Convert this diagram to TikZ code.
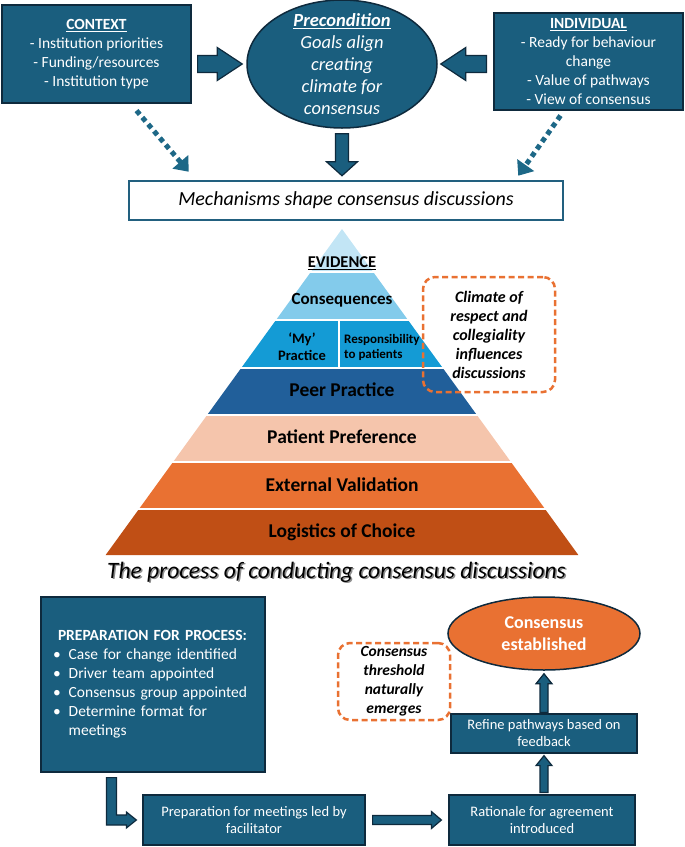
\documentclass[tikz,border=0pt]{standalone}
\usepackage{fontspec}
\setmainfont{Carlito}
\usetikzlibrary{calc,shapes.geometric,arrows.meta}

\definecolor{tealfill}{HTML}{1A5E7E}
\definecolor{navy}{HTML}{0E2A3D}
\definecolor{mechline}{HTML}{22607F}
\definecolor{tealdot}{HTML}{1D6887}
\definecolor{orng}{HTML}{E97132}
\definecolor{pyrA}{HTML}{C2E5F5}
\definecolor{pyrB}{HTML}{83CBEB}
\definecolor{pyrC}{HTML}{149BD5}
\definecolor{pyrD}{HTML}{215F9A}
\definecolor{pyrE}{HTML}{F5C5AC}
\definecolor{pyrF}{HTML}{E97132}
\definecolor{pyrG}{HTML}{C04F15}

% block arrow: from, to, half shaft, half head, head length
\newcommand{\blockarrow}[5]{%
\coordinate (ba-s) at (#1);
\coordinate (ba-e) at (#2);
\coordinate (ba-h) at ($(ba-e)!#5!(ba-s)$);
\draw[blockarr] ($(ba-s)!#3!90:(ba-e)$) -- ($(ba-h)!#3!90:(ba-e)$)
  -- ($(ba-h)!#4!90:(ba-e)$) -- (ba-e) -- ($(ba-h)!#4!-90:(ba-e)$)
  -- ($(ba-h)!#3!-90:(ba-e)$) -- ($(ba-s)!#3!-90:(ba-e)$) -- cycle;}

\begin{document}
\begin{tikzpicture}[x=1pt,y=-1pt,
  tealbox/.style={draw=navy,line width=1.2pt,fill=tealfill,text=white,align=center,inner sep=0pt},
  dashbox/.style={draw=orng,line width=2.5pt,dash pattern=on 6pt off 3.5pt,rounded corners=12pt,align=center,inner sep=0pt},
  blockarr/.style={draw=navy,line width=1.2pt,fill=tealfill,line join=miter},
  dotarr/.style={draw=tealdot,line width=5pt,dash pattern=on 5pt off 4pt,-{Triangle[length=13pt,width=20pt]}},
  pyrtext/.style={font=\bfseries\fontsize{19.5}{22}\selectfont,text=black,inner sep=0pt}]

\useasboundingbox (0,0) rectangle (685,847);

% top row
\node[tealbox,minimum width=189pt,minimum height=98pt,font=\fontsize{15.5}{19}\selectfont] (ctx) at (96.5,54)
  {\textbf{\underline{CONTEXT}}\\- Institution priorities\\- Funding/resources\\- Institution type};
\node[ellipse,draw=navy,line width=1.5pt,fill=tealfill,minimum width=190pt,minimum height=128pt,inner sep=0pt] (pre) at (342,64) {};
\node[text=white,align=center,inner sep=0pt,font=\itshape\fontsize{18.5}{22}\selectfont] (pretxt) at (pre)
  {\textbf{\underline{Precondition}}\\Goals align\\creating\\climate for\\consensus};
\node[tealbox,minimum width=189pt,minimum height=97pt,font=\fontsize{15.5}{19}\selectfont] (ind) at (588.5,61.5)
  {\textbf{\underline{INDIVIDUAL}}\\- Ready for behaviour\\change\\- Value of pathways\\- View of consensus};

\node[draw=mechline,line width=2.5pt,fill=white,minimum width=434pt,minimum height=39pt,inner sep=0pt,
  font=\itshape\fontsize{20}{24}\selectfont] (mech) at (346,200.5) {Mechanisms shape consensus discussions};

\blockarrow{$(ctx.east |- pre.west)+(6,0)$}{$(pre.west)+(-4,0)$}{8.5pt}{16.5pt}{25pt}
\blockarrow{$(ind.west |- pre.east)+(-7,0)$}{$(pre.east)+(3,0)$}{8.5pt}{16.5pt}{25pt}
\blockarrow{$(pre.south)+(0,5)$}{$(pre.south |- mech.north)+(0,-4)$}{6.5pt}{15.5pt}{14pt}

\draw[dotarr] ($(ctx.south)+(40,7)$) -- ($(mech.north west)+(61,-8)$);
\draw[dotarr] ($(ind.south)+(-28,5)$) -- ($(mech.north east)+(-46,-4)$);

% pyramid
\foreach \ya/\yb/\col in {229/272/pyrA, 272/320/pyrB, 320/368/pyrC, 368/415/pyrD, 415/462/pyrE, 462/509/pyrF, 509/555/pyrG}{
\fill[\col] ({342-0.725*(\ya-229)},\ya) -- ({342+0.725*(\ya-229)},\ya)
  -- ({342+0.725*(\yb-229)},\yb) -- ({342-0.725*(\yb-229)},\yb) -- cycle;
}
\foreach \yy in {272,320,368,415,462,509}{
\draw[white,line width=2pt] ({340-0.725*(\yy-229)},\yy) -- ({344+0.725*(\yy-229)},\yy);
}
\draw[white,line width=1.5pt] (339,320) -- (339,368);

\node[pyrtext,font=\bfseries\fontsize{16.5}{20}\selectfont] (evid) at (342,263) {\underline{EVIDENCE}};
\node[pyrtext,font=\bfseries\fontsize{17}{20}\selectfont] (conq) at (342,300) {Consequences};
\node[pyrtext,align=center,font=\bfseries\fontsize{14.5}{17}\selectfont] (myp) at (302,347) {‘My’\\Practice};
\node[pyrtext,align=left,anchor=west,font=\bfseries\fontsize{13}{15}\selectfont] (resp) at (344,347) {Responsibility\\to patients};
\node[pyrtext] (peer) at (342,390) {Peer Practice};
\node[pyrtext] (pat) at (342,437) {Patient Preference};
\node[pyrtext] (ext) at (342,485) {External Validation};
\node[pyrtext] (logc) at (342,532) {Logistics of Choice};

\node[dashbox,minimum width=132pt,minimum height=115pt,font=\bfseries\itshape\fontsize{16}{19}\selectfont] (clim) at (489,334.5)
  {Climate of\\respect and\\collegiality\\influences\\discussions};

% process
\node[text=black!45,inner sep=0pt,font=\itshape\fontsize{23.5}{28}\selectfont] (titsh) at (338,573.5) {The process of conducting consensus discussions};
\node[inner sep=0pt,font=\itshape\fontsize{23.5}{28}\selectfont] (tit) at (336.5,572) {The process of conducting consensus discussions};

\node[tealbox,minimum width=224pt,minimum height=175pt,text width=200pt,align=left,font=\fontsize{15.5}{19}\selectfont] (prep) at (153,684.5)
  {\begin{tabular}{@{}l@{\hspace{8pt}}l@{}}
   \multicolumn{2}{@{\hspace{5pt}}l@{}}{\textbf{PREPARATION FOR PROCESS:}}\\
   \textbullet & Case for change identified\\
   \textbullet & Driver team appointed\\
   \textbullet & Consensus group appointed\\
   \textbullet & Determine format for\\
               & meetings
   \end{tabular}};
\node[tealbox,minimum width=222pt,minimum height=50pt,font=\fontsize{14.5}{17}\selectfont] (mtg) at (254,820)
  {Preparation for meetings led by\\facilitator};
\node[tealbox,minimum width=186pt,minimum height=50pt,font=\fontsize{14.5}{17}\selectfont] (rat) at (542,820)
  {Rationale for agreement\\introduced};
\node[tealbox,minimum width=186pt,minimum height=39pt,font=\fontsize{14.5}{17}\selectfont] (ref) at (544,733.5)
  {Refine pathways based on\\feedback};
\node[ellipse,draw=navy,line width=1.5pt,fill=orng,minimum width=192pt,minimum height=73pt,inner sep=0pt,
  text=white,align=center,font=\bfseries\fontsize{18}{22}\selectfont] (est) at (544,633.5) {Consensus\\established};
\node[dashbox,minimum width=112pt,minimum height=77pt,font=\bfseries\itshape\fontsize{15.5}{19}\selectfont] (thr) at (394,681.5)
  {Consensus\\threshold\\naturally\\emerges};

\coordinate (el1) at ($(prep.south west)+(71,5)$);
\coordinate (el2) at ($(mtg.west)+(-6,0)$);
\coordinate (el3) at (el1 |- el2);
\draw[blockarr] ($(el1)+(-5,0)$) -- ($(el3)+(-5,5)$) -- ($(el2)+(-10,5)$) -- ($(el2)+(-10,8)$) -- (el2)
  -- ($(el2)+(-10,-8)$) -- ($(el2)+(-10,-5)$) -- ($(el3)+(5,-5)$) -- ($(el1)+(5,0)$) -- cycle;

\blockarrow{$(mtg.east)+(7,0)$}{$(rat.west)+(-7,0)$}{4.5pt}{8.5pt}{10pt}
\blockarrow{$(ref.south |- rat.north)+(0,-2)$}{$(ref.south)+(0,2)$}{4pt}{8pt}{10pt}
\blockarrow{$(ref.north)+(0,-1)$}{$(est.south)+(0,3)$}{4pt}{8pt}{10pt}
\end{tikzpicture}
\end{document}
